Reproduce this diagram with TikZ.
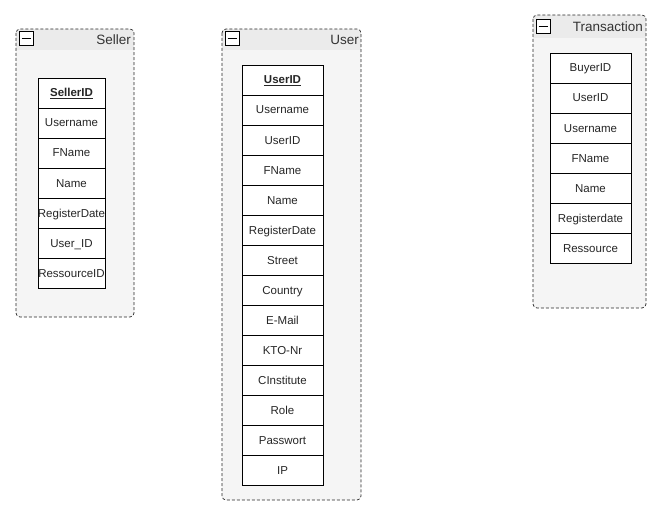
\documentclass[tikz,border=0pt]{standalone}
\usepackage{fontspec}
\setmainfont{Liberation Sans}
\begin{document}
\begin{tikzpicture}[x=1pt,y=-1pt,
  container/.style={draw=black!85, dash pattern=on 3pt off 2pt, rounded corners=4pt, line width=0.7pt},
  minusbox/.style={draw=black, fill=white, minimum size=14pt, inner sep=0pt, line width=0.8pt},
  title/.style={font=\fontsize{13.5}{15}\selectfont, text=black!80, anchor=east, inner sep=0pt},
  cell/.style={draw=black, fill=white, line width=0.7pt, inner sep=0pt, text height=10pt, text depth=2pt, font=\fontsize{11.5}{13}\selectfont, text=black!85}
]
\useasboundingbox (0,0) rectangle (661,516);
% Seller container
\begin{scope}
\clip[rounded corners=4pt] (16,29) rectangle (134,317);
\fill[black!4] (16,29) rectangle (134,317);
\fill[black!8] (16,29) rectangle (134,50);
\end{scope}
\draw[container] (16,29) rectangle (134,317);
\node[minusbox] (sm) at (26,38.5) {};
\draw[line width=1pt] (21.5,38.5) -- (30.5,38.5);
\node[title] (st) at (131,40) {Seller};
% User container
\begin{scope}
\clip[rounded corners=4pt] (222,29) rectangle (361,500);
\fill[black!4] (222,29) rectangle (361,500);
\fill[black!8] (222,29) rectangle (361,50);
\end{scope}
\draw[container] (222,29) rectangle (361,500);
\node[minusbox] (um) at (232,38.5) {};
\draw[line width=1pt] (227.5,38.5) -- (236.5,38.5);
\node[title] (ut) at (359,40) {User};
% Transaction container
\begin{scope}
\clip[rounded corners=4pt] (533,15) rectangle (646,308);
\fill[black!4] (533,15) rectangle (646,308);
\fill[black!8] (533,15) rectangle (646,38);
\end{scope}
\draw[container] (533,15) rectangle (646,308);
\node[minusbox] (tm) at (543,26.5) {};
\draw[line width=1pt] (538.5,26.5) -- (547.5,26.5);
\node[title] (tt) at (643,27) {Transaction};
% Seller table
\node[cell, minimum width=67pt, minimum height=30pt] (sk) at (71.5,93) {\underline{\textbf{SellerID}}};
\foreach \t [count=\i from 0] in {Username,FName,Name,RegisterDate,User\_ID,RessourceID}{
  \node[cell, minimum width=67pt, minimum height=30pt] (s\i) at (71.5,{123+30*\i}) {\t};
}
% User table
\node[cell, minimum width=81pt, minimum height=30pt] (uk) at (282.5,80) {\underline{\textbf{UserID}}};
\foreach \t [count=\i from 0] in {Username,UserID,FName,Name,RegisterDate,Street,Country,E-Mail,KTO-Nr,CInstitute,Role,Passwort,IP}{
  \node[cell, minimum width=81pt, minimum height=30pt] (u\i) at (282.5,{110+30*\i}) {\t};
}
% Transaction table
\foreach \t [count=\i from 0] in {BuyerID,UserID,Username,FName,Name,Registerdate,Ressource}{
  \node[cell, minimum width=81pt, minimum height=30pt] (t\i) at (590.5,{68+30*\i}) {\t};
}
\end{tikzpicture}
\end{document}
